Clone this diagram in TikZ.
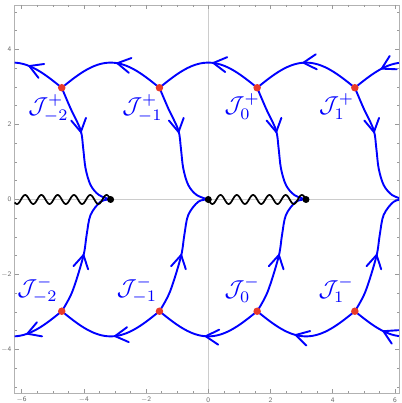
\documentclass[tikz,border=0pt]{standalone}
\definecolor{mblue}{RGB}{0,0,255}
\definecolor{saddlered}{RGB}{232,58,42}
\newcommand\mychev[3]{\draw[chevstyle,shift={(#1,#2)},rotate=#3] (-13pt,7.5pt) -- (0,0) -- (-13pt,-7.5pt);}
\newcommand\topchev[1]{%
  \pgfmathsetmacro\cyA{2.98+0.67*abs(cos((#1) r))}%
  \pgfmathsetmacro\sgA{cos((#1) r)>=0 ? 1 : -1}%
  \pgfmathsetmacro\ddA{-0.67*sin((#1) r)*\sgA}%
  \pgfmathsetmacro\angA{atan2(-1*(\ddA)*37.5,-31.1)}%
  \mychev{#1}{\cyA}{\angA}}
\newcommand\botchev[1]{%
  \pgfmathsetmacro\cyB{-2.98-0.67*abs(cos((#1) r))}%
  \pgfmathsetmacro\sgB{cos((#1) r)>=0 ? 1 : -1}%
  \pgfmathsetmacro\ddB{0.67*sin((#1) r)*\sgB}%
  \pgfmathsetmacro\angB{atan2(-1*(\ddB)*37.5,-31.1)}%
  \mychev{#1}{\cyB}{\angB}}
\def\FxL{-6.225}\def\FxR{6.132}\def\FyB{-5.168}\def\FyT{5.187}
\begin{document}
\begin{tikzpicture}[x=31.1pt,y=37.5pt,
  curve/.style={draw=mblue,line width=1.9pt,line join=round},
  chevstyle/.style={draw=mblue,line width=1.9pt,line join=miter,line cap=round},
  wavy/.style={draw=black,line width=1.7pt},
  bdot/.style={circle,fill=black,inner sep=0pt,minimum size=7pt},
  rdot/.style={circle,fill=saddlered,inner sep=0pt,minimum size=7.5pt},
  lab/.style={text=mblue,scale=2.3,inner sep=0pt},
  axisline/.style={draw=black!20,line width=0.8pt},
  framestyle/.style={draw=black!30,line width=0.7pt},
  tickstyle/.style={draw=black!40,line width=0.5pt},
  ticklab/.style={text=black!60,font=\sffamily\fontsize{7}{8}\selectfont,inner sep=0pt}]
\useasboundingbox (-6.698,-5.427) rectangle (6.228,5.32);
% axes through the origin
\draw[axisline] (0,\FyB) -- (0,\FyT);
\draw[axisline] (\FxL,0) -- (\FxR,0);
% frame and ticks
\draw[framestyle] (\FxL,\FyB) rectangle (\FxR,\FyT);
\foreach \k in {-12,...,12}{
  \pgfmathsetmacro\tx{\k/2}
  \pgfmathsetmacro\tl{mod(\k,4)==0 ? 4 : 2.5}
  \draw[tickstyle] (\tx,\FyB) -- ++(0,\tl pt);
  \draw[tickstyle] (\tx,\FyT) -- ++(0,-\tl pt);
}
\foreach \k in {-10,...,10}{
  \pgfmathsetmacro\ty{\k/2}
  \pgfmathsetmacro\tl{mod(\k,4)==0 ? 4 : 2.5}
  \draw[tickstyle] (\FxL,\ty) -- ++(\tl pt,0);
  \draw[tickstyle] (\FxR,\ty) -- ++(-\tl pt,0);
}
\foreach \t/\s in {-6/{$-$6},-4/{$-$4},-2/{$-$2},0/0,2/2,4/4,6/6}
  \node[ticklab] (xl\t) at (\t,-5.347) {\s};
\foreach \t/\s in {-4/{$-$4},-2/{$-$2},0/0,2/2,4/4}
  \node[ticklab,anchor=east] (yl\t) at (-6.33,\t) {\s};
% blue steepest-descent contours
\begin{scope}
\clip (\FxL,\FyB) rectangle (\FxR,\FyT);
\foreach \a/\b in {\FxL/-4.71239,-4.71239/-1.5708,-1.5708/1.5708,1.5708/4.71239,4.71239/\FxR}{
  \draw[curve] plot[domain=\a:\b,samples=50,smooth] (\x,{2.98+0.67*abs(cos(\x r))});
  \draw[curve] plot[domain=\a:\b,samples=50,smooth] (\x,{-2.98-0.67*abs(cos(\x r))});
}
\foreach \xx in {-4.71239,-1.5708,1.5708,4.71239}{
  \draw[curve,shift={(\xx,0)}] plot[smooth,tension=0.55] coordinates {(0,2.98) (0.283,2.43) (0.605,1.853) (0.69,1.365) (0.765,0.832) (0.926,0.387) (1.196,0.12) (1.5708,0)};
  \draw[curve,shift={(\xx,0)}] plot[smooth,tension=0.55] coordinates {(0,-2.98) (0.338,-2.46) (0.69,-1.525) (0.80,-0.947) (0.926,-0.413) (1.25,-0.059) (1.5708,0)};
  \mychev{\xx+0.614}{1.8}{-80}
  \mychev{\xx+0.699}{-1.48}{78}
}
\foreach \p in {-5.756,-2.926,0.161,3.055,5.575} {\topchev{\p}}
\foreach \p in {-5.82,-3.0,-0.084,2.81,5.63} {\botchev{\p}}
\end{scope}
% branch cuts
\draw[wavy] plot[domain=\FxL:-3.14159,samples=150,smooth] (\x,{-0.12*sin(12*(\x) r)});
\draw[wavy] plot[domain=0:3.14159,samples=150,smooth] (\x,{-0.12*sin(12*(\x) r)});
% branch points
\node[bdot] (bpm) at (-3.14159,0) {};
\node[bdot] (bp0) at (0,0) {};
\node[bdot] (bpp) at (3.14159,0) {};
% saddle points
\foreach \n/\xx in {m2/-4.71239,m1/-1.5708,z/1.5708,p1/4.71239}{
  \node[rdot] (su\n) at (\xx,2.98) {};
  \node[rdot] (sd\n) at (\xx,-2.98) {};
}
% labels
\node[lab] (Jm2p) at (-5.138,2.44) {$\mathcal{J}^{+}_{-2}$};
\node[lab] (Jm1p) at (-2.116,2.44) {$\mathcal{J}^{+}_{-1}$};
\node[lab] (J0p) at (1.091,2.49) {$\mathcal{J}^{+}_{0}$};
\node[lab] (J1p) at (4.129,2.49) {$\mathcal{J}^{+}_{1}$};
\node[lab] (Jm2m) at (-5.492,-2.413) {$\mathcal{J}^{-}_{-2}$};
\node[lab] (Jm1m) at (-2.293,-2.413) {$\mathcal{J}^{-}_{-1}$};
\node[lab] (J0m) at (1.091,-2.413) {$\mathcal{J}^{-}_{0}$};
\node[lab] (J1m) at (4.113,-2.413) {$\mathcal{J}^{-}_{1}$};
\end{tikzpicture}
\end{document}
